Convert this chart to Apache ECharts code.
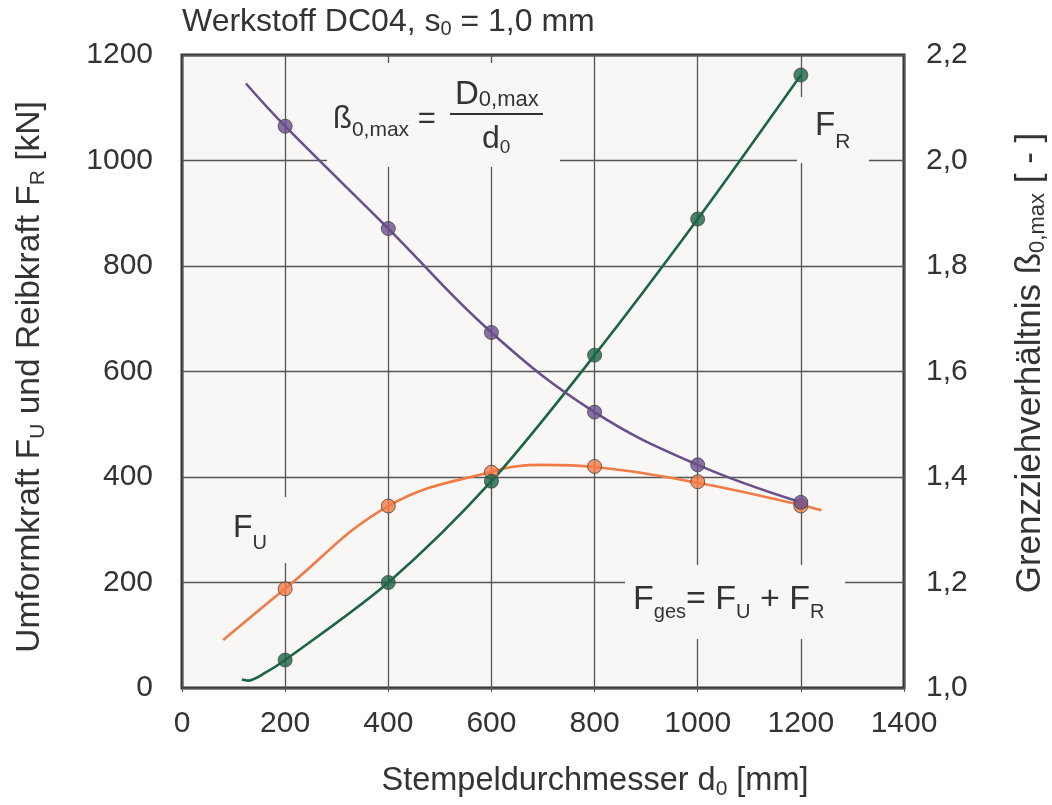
<!DOCTYPE html>
<html>
<head>
<meta charset="utf-8">
<script src="https://cdn.jsdelivr.net/npm/echarts@6/dist/echarts.min.js"></script>
<style>html,body{margin:0;padding:0;background:#fff}#c{width:1052px;height:805px}</style>
</head>
<body>
<div id="c"></div>
<script>
// ---- data ----
const dMeasured = [200, 400, 600, 800, 1000, 1200];          // Stempeldurchmesser d0 [mm]
const fuMeasured = [188, 345, 409, 420, 391, 345];          // Umformkraft F_U [kN]
const frMeasured = [53, 200, 392, 631, 889, 1162];          // Reibkraft F_R [kN]
const betaMeasured = [2.065, 1.871, 1.674, 1.523, 1.423, 1.352]; // ß0,max [-]

// fitted curves as drawn in the reference
const fuCurveX = [80, 200, 400, 600, 700, 800, 1000, 1200, 1240];
const fuCurveY = [91, 188, 345, 410, 423, 419, 389, 347, 337];
const frCurveX = [116, 128, 160, 200, 400, 600, 800, 1000, 1200];
const frCurveY = [16, 14, 28, 53, 200, 392, 631, 889, 1162];
const betaCurveX = [124, 200, 400, 600, 800, 1000, 1200];
const betaCurveY = [2.146, 2.065, 1.871, 1.674, 1.523, 1.423, 1.352];

const xTicks = [0, 200, 400, 600, 800, 1000, 1200, 1400];
const leftTicks = [0, 200, 400, 600, 800, 1000, 1200];
const rightTicks = [1.0, 1.2, 1.4, 1.6, 1.8, 2.0, 2.2];

const C_FU = '#f27a45', C_FR = '#1b6446', C_B = '#6b4f8d';
const FONT = "'Liberation Sans', Arial, sans-serif";
const TXT = '#333333';
const PLOT_BG = '#f8f7f5';

const zip = (a, b) => a.map((v, i) => [v, b[i]]);

function rich(fs, sfs, drop) {
  return {
    m: { fontSize: fs, fontFamily: FONT, fill: TXT, lineHeight: Math.round(fs * 1.15) },
    s: { fontSize: sfs, fontFamily: FONT, fill: TXT, lineHeight: sfs, padding: [drop, 0, 0, 0] }
  };
}
function txt(x, y, text, fs, sfs, drop, align, rot, z) {
  return {
    type: 'text', x: x, y: y, rotation: rot || 0, z: z || 10,
    style: { text: text, rich: rich(fs, sfs, drop), align: align || 'left', verticalAlign: 'middle', fill: TXT, fontSize: fs, fontFamily: FONT }
  };
}
function box(x, y, w, h) {
  return { type: 'rect', z: 1, shape: { x: x, y: y, width: w, height: h }, style: { fill: PLOT_BG } };
}

const chart = echarts.init(document.getElementById('c'), null, { renderer: 'canvas' });

const markerStyle = c => ({ color: c, borderColor: '#444', borderWidth: 1 });

chart.setOption({
  animation: false,
  backgroundColor: '#ffffff',
  grid: { left: 182, top: 55, width: 722, height: 633, show: true, backgroundColor: PLOT_BG, borderColor: '#333', borderWidth: 3 },
  xAxis: {
    type: 'value', min: xTicks[0], max: xTicks[xTicks.length - 1], interval: 200,
    axisLine: { show: false },
    axisTick: { show: true, length: 4, lineStyle: { color: '#555' } },
    axisLabel: { fontSize: 30, fontFamily: FONT, color: TXT, margin: 21, formatter: v => String(v) },
    splitLine: { show: true, lineStyle: { color: '#555', width: 1.3 } }
  },
  yAxis: [{
    type: 'value', min: leftTicks[0], max: leftTicks[leftTicks.length - 1], interval: 200,
    axisLine: { show: false }, axisTick: { show: false },
    axisLabel: { fontSize: 30, fontFamily: FONT, color: TXT, margin: 29, formatter: v => String(v) },
    splitLine: { show: true, lineStyle: { color: '#555', width: 1.3 } }
  }, {
    type: 'value', min: rightTicks[0], max: rightTicks[rightTicks.length - 1], interval: 0.2,
    axisLine: { show: false }, axisTick: { show: false },
    axisLabel: { fontSize: 30, fontFamily: FONT, color: TXT, margin: 22, formatter: v => v.toFixed(1).replace('.', ',') },
    splitLine: { show: false }
  }],
  series: [
    { type: 'line', name: 'F_U', data: zip(fuCurveX, fuCurveY), smooth: 0.4, showSymbol: false, lineStyle: { color: C_FU, width: 2.6 }, z: 2 },
    { type: 'line', name: 'F_R', data: zip(frCurveX, frCurveY), smooth: 0.3, showSymbol: false, lineStyle: { color: C_FR, width: 2.6 }, z: 2 },
    { type: 'line', name: 'beta', yAxisIndex: 1, data: zip(betaCurveX, betaCurveY), smooth: 0.4, showSymbol: false, lineStyle: { color: C_B, width: 2.6 }, z: 2 },
    { type: 'scatter', data: zip(dMeasured, fuMeasured), symbolSize: 14, itemStyle: markerStyle(C_FU), z: 3 },
    { type: 'scatter', data: zip(dMeasured, frMeasured), symbolSize: 14, itemStyle: markerStyle(C_FR), z: 4 },
    { type: 'scatter', yAxisIndex: 1, data: zip(dMeasured, betaMeasured), symbolSize: 14, itemStyle: markerStyle(C_B), z: 5 }
  ],
  graphic: [
    // label boxes that interrupt grid lines
    box(327, 63, 233, 104),
    box(797, 97, 72, 66),
    box(222, 497, 78, 66),
    box(625, 565, 220, 74),
    // title and axis names
    txt(182, 22, '{m|Werkstoff DC04, s}{s|0}{m| = 1,0 mm}', 32, 20, 14, 'left'),
    txt(595, 781, '{m|Stempeldurchmesser d}{s|0}{m| [mm]}', 32.5, 21, 16, 'center'),
    txt(30, 377, '{m|Umformkraft F}{s|U}{m| und Reibkraft F}{s|R}{m| [kN]}', 33.5, 21, 16, 'center', Math.PI / 2),
    txt(1030, 363, '{m|Grenzziehverhältnis ß}{s|0,max}{m| [ - ]}', 35, 22, 16, 'center', Math.PI / 2),
    // annotations
    txt(333, 119, '{m|ß}{s|0,max}{m| =}', 31, 21, 22, 'left'),
    { type: 'line', z: 10, shape: { x1: 450, y1: 114, x2: 543, y2: 114 }, style: { stroke: TXT, lineWidth: 2 } },
    txt(455, 95, '{m|D}{s|0,max}', 33, 22, 10, 'left'),
    txt(482, 139, '{m|d}{s|0}', 32, 19, 18, 'left'),
    txt(815, 126, '{m|F}{s|R}', 33, 21, 32, 'left'),
    txt(233, 528, '{m|F}{s|U}', 32, 20, 30, 'left'),
    txt(633, 600, '{m|F}{s|ges}{m|= F}{s|U}{m| + F}{s|R}', 34, 20, 24, 'left')
  ]
});
</script>
</body>
</html>
